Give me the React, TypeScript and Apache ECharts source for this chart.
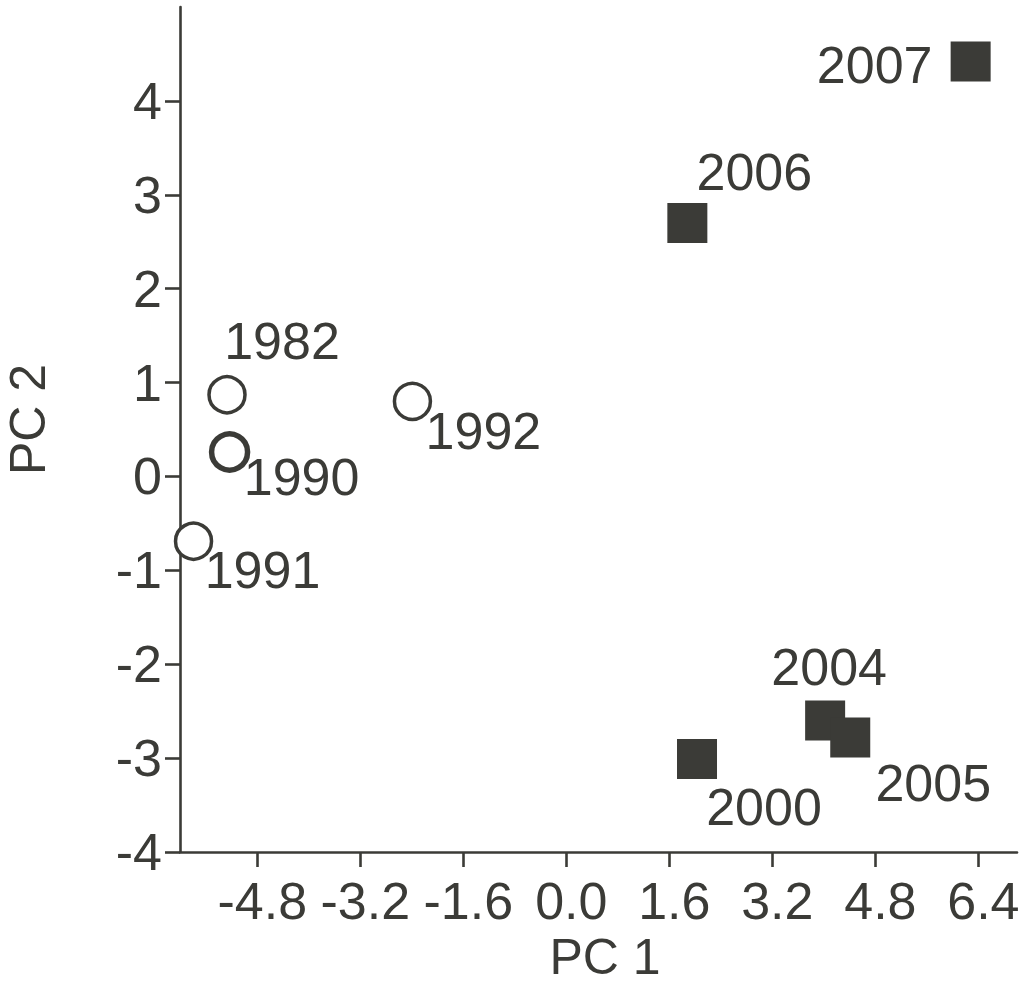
import React, { useEffect, useRef } from "react";
import * as echarts from "echarts";

// ---- Data ----
const circleYears = ["1982", "1990", "1991", "1992"];
const circlePC1 = [-5.27, -5.23, -5.79, -2.39];
const circlePC2 = [0.87, 0.26, -0.69, 0.8];

const squareYears = ["2000", "2004", "2005", "2006", "2007"];
const squarePC1 = [2.03, 4.02, 4.41, 1.88, 6.28];
const squarePC2 = [-3.01, -2.6, -2.78, 2.7, 4.42];

const xTicks = [-4.8, -3.2, -1.6, 0.0, 1.6, 3.2, 4.8, 6.4];
const yTicks = [-4, -3, -2, -1, 0, 1, 2, 3, 4];

// label placement (pixel offsets from marker centre)
const labelOffsets: Record<string, [number, number]> = {
  "1982": [55, -54],
  "1990": [72, 25],
  "1991": [69, 29],
  "1992": [71, 30],
  "2000": [67, 48],
  "2004": [4, -54],
  "2005": [83, 46],
  "2006": [67, -51],
  "2007": [-96, 4],
};

const INK = "#3b3b37";
const FONT = "'Liberation Sans', Arial, Helvetica, sans-serif";
const FS = 52;
const NAME_FS = 50;

export default function App() {
  const ref = useRef<HTMLDivElement>(null);

  useEffect(() => {
    document.body.style.margin = "0";
    if (!ref.current) return;
    const chart = echarts.init(ref.current, undefined, { renderer: "svg" });

    const mk = (years: string[], xs: number[], ys: number[], extra?: (y: string) => any) =>
      years.map((y, i) => ({
        name: y,
        value: [xs[i], ys[i]],
        label: { offset: labelOffsets[y] },
        ...(extra ? extra(y) : {}),
      }));

    const labelStyle = {
      show: true,
      position: "inside",
      formatter: "{b}",
      color: INK,
      fontSize: FS,
      fontFamily: FONT,
      align: "center",
      verticalAlign: "middle",
    };

    chart.setOption({
      animation: false,
      backgroundColor: "#ffffff",
      grid: {
        left: 180,
        right: 7,
        top: 7,
        bottom: 133,
        containLabel: false,
        outerBoundsMode: "none",
      },
      xAxis: {
        type: "value",
        min: -6,
        max: 7,
        name: "PC 1",
        nameLocation: "middle",
        nameGap: 84,
        nameTextStyle: {
          color: INK,
          fontSize: NAME_FS,
          fontFamily: FONT,
          lineHeight: 40,
          padding: [0, 0, 0, 13],
        },
        axisLine: { show: true, onZero: false, lineStyle: { color: INK, width: 2.6 } },
        axisTick: { show: true, length: 15, lineStyle: { color: INK, width: 2.6 }, customValues: xTicks },
        axisLabel: {
          color: INK,
          fontSize: FS,
          fontFamily: FONT,
          margin: 23,
          padding: [0, 0, 0, 10],
          customValues: xTicks,
          formatter: (v: number) => v.toFixed(1),
        },
        splitLine: { show: false },
      },
      yAxis: {
        type: "value",
        min: -4,
        max: 5,
        name: "PC 2",
        nameLocation: "middle",
        nameGap: 132,
        nameTextStyle: {
          color: INK,
          fontSize: NAME_FS,
          fontFamily: FONT,
          lineHeight: 40,
          padding: [0, 0, 0, 20],
        },
        axisLine: { show: true, onZero: false, lineStyle: { color: INK, width: 2.6 } },
        axisTick: { show: true, length: 15, lineStyle: { color: INK, width: 2.6 }, customValues: yTicks },
        axisLabel: {
          color: INK,
          fontSize: FS,
          fontFamily: FONT,
          margin: 18,
          customValues: yTicks,
          formatter: (v: number) => String(v),
        },
        splitLine: { show: false },
      },
      series: [
        {
          type: "scatter",
          symbol: "circle",
          symbolSize: 36,
          itemStyle: { color: "#ffffff", borderColor: INK, borderWidth: 3.5, opacity: 1 },
          label: labelStyle,
          data: mk(circleYears, circlePC1, circlePC2, (y) =>
            y === "1990" ? { itemStyle: { borderWidth: 5.5 } } : {}
          ),
          z: 3,
        },
        {
          type: "scatter",
          symbol: "rect",
          symbolSize: 40,
          itemStyle: { color: INK, opacity: 1 },
          label: labelStyle,
          data: mk(squareYears, squarePC1, squarePC2),
          z: 3,
        },
      ],
    });

    return () => chart.dispose();
  }, []);

  return <div ref={ref} style={{ width: 1024, height: 985 }} />;
}
